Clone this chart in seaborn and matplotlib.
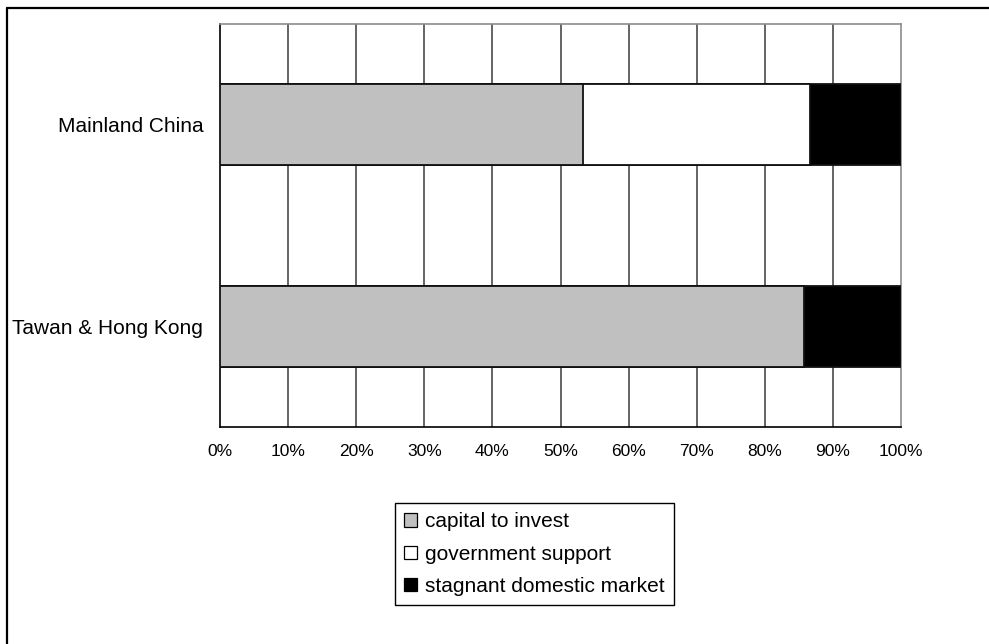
import numpy as np
import pandas as pd
import matplotlib
matplotlib.use("Agg")
import matplotlib.pyplot as plt
from matplotlib.patches import Patch
from matplotlib.lines import Line2D
import seaborn as sns

# Share of firms citing each reason, by region (percent)
regions = ["Mainland China", "Tawan & Hong Kong"]
capital = [53.3, 85.7]
government = [33.3, 0.0]
stagnant = [13.4, 14.3]
series_names = ["capital to invest", "government support", "stagnant domestic market"]
series_colors = ["#c0c0c0", "#ffffff", "#000000"]
x_ticks = list(range(0, 101, 10))
x_tick_labels = [f"{t}%" for t in x_ticks]

sns.set_style("white")
plt.rcParams["font.family"] = ["Liberation Sans", "DejaVu Sans"]
plt.rcParams["text.color"] = "black"
plt.rcParams["xtick.labelcolor"] = "black"
plt.rcParams["ytick.labelcolor"] = "black"

W, H = 989, 644
fig = plt.figure(figsize=(W / 100, H / 100), dpi=100)
ax = fig.add_axes([220 / W, 1 - 427 / H, 681 / W, 403 / H])

# cumulative right edges so that stacked segments can be drawn back to front
ends = np.cumsum([capital, government, stagnant], axis=0)
df = pd.DataFrame({
    "region": regions * 3,
    "series": np.repeat(series_names, len(regions)),
    "end": ends.flatten(),
})

for name, color in reversed(list(zip(series_names, series_colors))):
    sns.barplot(data=df[df["series"] == name], x="end", y="region", order=regions,
                color=color, saturation=1, edgecolor="#111111", linewidth=1.3,
                width=0.4, ax=ax, zorder=3)

ax.set_xlim(0, 100)
ax.set_ylim(1.5, -0.5)
ax.set_xlabel("")
ax.set_ylabel("")

# x axis: percent ticks and vertical gridlines
ax.set_xticks(x_ticks)
ax.set_xticklabels(x_tick_labels, fontsize=12.5, color="black")
ax.tick_params(axis="x", direction="out", length=3, width=1, color="black", pad=9)
ax.xaxis.grid(True, color="#3a3a3a", linewidth=1.1, zorder=1)
ax.set_axisbelow(True)
gl = ax.get_xgridlines()
gl[0].set_visible(False)
gl[-1].set_visible(False)

# y axis: tick marks between categories, labels centred on bars
ax.set_yticks([-0.5, 0.5, 1.5])
ax.set_yticklabels([])
ax.set_yticks([0, 1], minor=True)
ax.set_yticklabels(regions, minor=True, fontsize=15, color="black")
ax.tick_params(axis="y", which="major", direction="out", length=5, width=1, color="black")
ax.tick_params(axis="y", which="minor", length=0, pad=12)

for side in ["left", "bottom"]:
    ax.spines[side].set_color("black")
    ax.spines[side].set_linewidth(1.2)
for side in ["top", "right"]:
    ax.spines[side].set_color("#8c8c8c")
    ax.spines[side].set_linewidth(1.2)

handles = [Patch(facecolor=c, edgecolor="black", linewidth=0.9) for c in series_colors]
leg = ax.legend(handles, series_names, loc="upper left",
                bbox_to_anchor=(395 / W, 1 - 503 / H), bbox_transform=fig.transFigure,
                frameon=True, fancybox=False, edgecolor="black", framealpha=1,
                borderaxespad=0, handlelength=0.6, handleheight=0.6,
                handletextpad=0.4, labelspacing=0.63, borderpad=0.45, fontsize=15)
leg.get_frame().set_linewidth(1.0)
for t in leg.get_texts():
    t.set_color("black")

# outer chart frame (top and left edges)
fig.add_artist(Line2D([7 / W, 7 / W], [1 - 8 / H, 0], transform=fig.transFigure,
                      color="black", linewidth=1.6))
fig.add_artist(Line2D([7 / W, 1], [1 - 8 / H, 1 - 8 / H], transform=fig.transFigure,
                      color="black", linewidth=1.6))

fig.savefig("out.png", dpi=100)
